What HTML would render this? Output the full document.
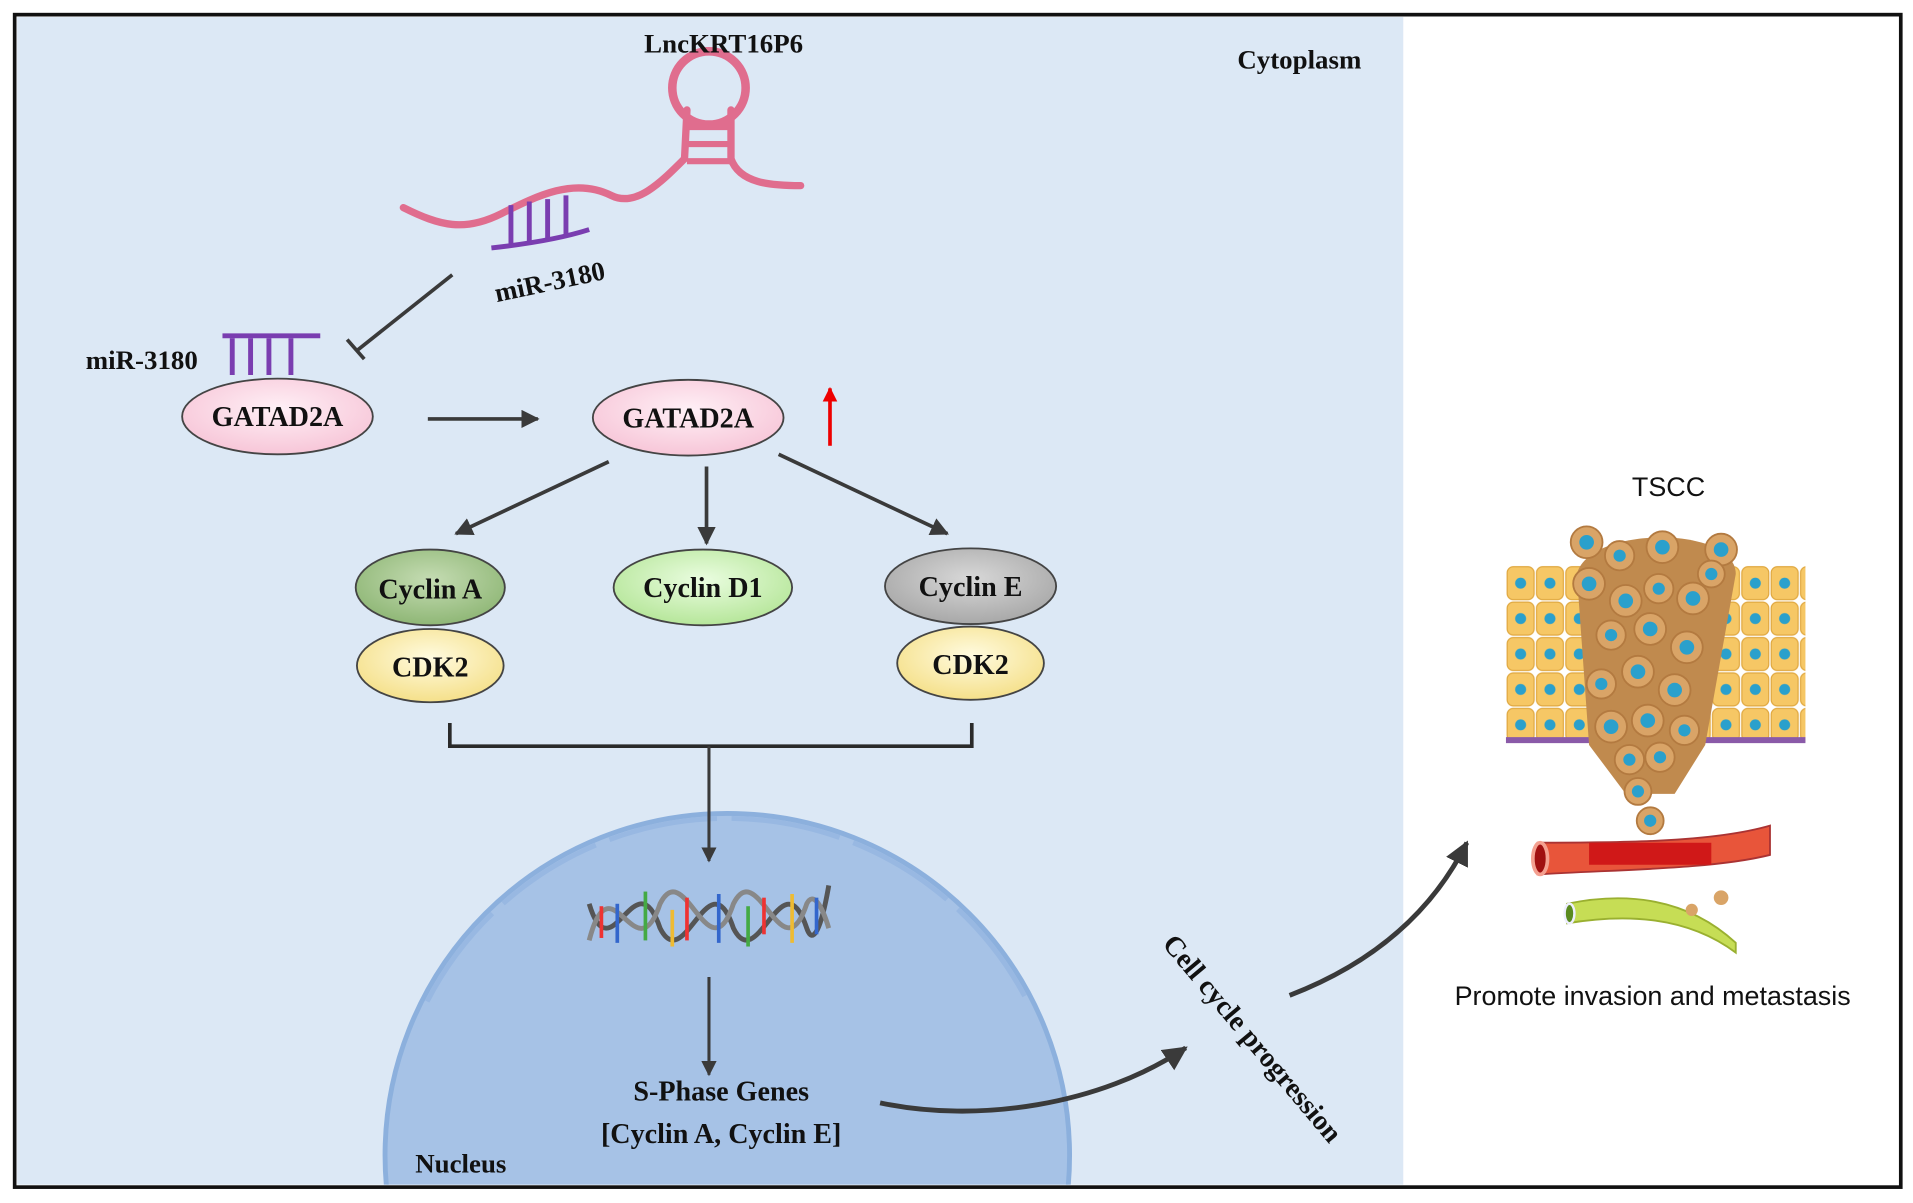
<!DOCTYPE html>
<html><head><meta charset="utf-8"><style>
html,body{margin:0;padding:0;background:#fff;width:1913px;height:1203px;overflow:hidden;}
svg{display:block;overflow:hidden;}
text{font-family:"Liberation Serif",serif;font-weight:bold;fill:#111;}
.s{font-family:"Liberation Sans",sans-serif;font-weight:normal;}
</style></head><body>
<svg width="1913" height="1203" viewBox="0 0 1565 985" preserveAspectRatio="none" xmlns="http://www.w3.org/2000/svg">
<defs>
<marker id="ah" viewBox="0 0 10 10" refX="9" refY="5" markerWidth="5" markerHeight="5" orient="auto"><path d="M0,0 L10,5 L0,10 z" fill="#3a3a3a"/></marker>
<marker id="ahr" viewBox="0 0 10 10" refX="9" refY="5" markerWidth="4" markerHeight="4" orient="auto"><path d="M0,0 L10,5 L0,10 z" fill="#e00"/></marker>
<clipPath id="cp"><rect x="14" y="14" width="1134" height="956"/></clipPath>
<pattern id="cells" x="1232" y="463" width="24" height="29" patternUnits="userSpaceOnUse">
<rect x="1" y="1" width="22" height="27" rx="5" fill="#f6c765" stroke="#e0a840" stroke-width="1"/>
<circle cx="12" cy="14.5" r="4.5" fill="#2aa0cc"/>
</pattern>
<radialGradient id="gp" cx="50%" cy="40%" r="60%"><stop offset="0" stop-color="#fff0f6"/><stop offset="1" stop-color="#f7c6d8"/></radialGradient>
<radialGradient id="gy" cx="50%" cy="40%" r="60%"><stop offset="0" stop-color="#fffbe0"/><stop offset="1" stop-color="#f5e08a"/></radialGradient>
<radialGradient id="gg" cx="50%" cy="40%" r="60%"><stop offset="0" stop-color="#eafde0"/><stop offset="1" stop-color="#b6e69a"/></radialGradient>
<radialGradient id="ga" cx="50%" cy="40%" r="60%"><stop offset="0" stop-color="#c5dcb3"/><stop offset="1" stop-color="#8fb776"/></radialGradient>
<radialGradient id="ge" cx="50%" cy="40%" r="60%"><stop offset="0" stop-color="#d8d8d8"/><stop offset="1" stop-color="#a8a8a8"/></radialGradient>
</defs>
<rect x="0" y="0" width="1565" height="985" fill="#fff"/>
<rect x="14" y="14" width="1134" height="956" fill="#dce8f5"/>
<g clip-path="url(#cp)">
<circle cx="595" cy="946" r="280" fill="#a6c2e6" stroke="#8cb0dd" stroke-width="4"/>
<path d="M349.5,820 A276,276 0 0 1 840.5,820" fill="none" stroke="#98b8e2" stroke-width="4" stroke-dasharray="90 12"/>
</g>
<rect x="12" y="12" width="1543" height="960" fill="none" stroke="#111" stroke-width="3"/>

<path d="M330,170 C360,185 380,190 410,175 C440,160 470,145 500,160 C520,170 540,150 560,130 L562,90" fill="none" stroke="#e06d8e" stroke-width="6" stroke-linecap="round"/>
<path d="M598,90 L598,130 C605,150 630,152 655,152" fill="none" stroke="#e06d8e" stroke-width="6" stroke-linecap="round"/>
<circle cx="580" cy="72" r="30" fill="none" stroke="#e06d8e" stroke-width="7"/>
<path d="M562,104 H598 M562,118 H598 M562,132 H598" stroke="#e06d8e" stroke-width="5"/>
<text x="592" y="43" font-size="22" text-anchor="middle">LncKRT16P6</text>
<text x="1063" y="56" font-size="22" text-anchor="middle">Cytoplasm</text>
<path d="M402,203 C430,200 460,195 482,188" fill="none" stroke="#7a3db0" stroke-width="4"/>
<path d="M418,200 V168 M433,198 V165 M448,195 V163 M463,192 V160" stroke="#7a3db0" stroke-width="4"/>
<text x="450" y="238" font-size="22" text-anchor="middle" transform="rotate(-12 450 232)">miR-3180</text>
<line x1="370" y1="225" x2="292" y2="287" stroke="#3a3a3a" stroke-width="3"/>
<line x1="284" y1="278" x2="298" y2="294" stroke="#3a3a3a" stroke-width="3"/>
<path d="M182,275 H262" stroke="#7a3db0" stroke-width="4"/>
<path d="M190,277 V307 M205,277 V307 M220,277 V307 M238,277 V307" stroke="#7a3db0" stroke-width="4"/>
<text x="116" y="302" font-size="22" text-anchor="middle">miR-3180</text>

<ellipse cx="227" cy="341" rx="78" ry="31" fill="url(#gp)" stroke="#444" stroke-width="1.5"/>
<text x="227" y="349" font-size="23" text-anchor="middle">GATAD2A</text>
<line x1="350" y1="343" x2="440" y2="343" stroke="#3a3a3a" stroke-width="3" marker-end="url(#ah)"/>
<ellipse cx="563" cy="342" rx="78" ry="31" fill="url(#gp)" stroke="#444" stroke-width="1.5"/>
<text x="563" y="350" font-size="23" text-anchor="middle">GATAD2A</text>
<line x1="679" y1="365" x2="679" y2="318" stroke="#e00" stroke-width="3" marker-end="url(#ahr)"/>

<line x1="498" y1="378" x2="373" y2="437" stroke="#3a3a3a" stroke-width="3" marker-end="url(#ah)"/>
<line x1="578" y1="382" x2="578" y2="445" stroke="#3a3a3a" stroke-width="3" marker-end="url(#ah)"/>
<line x1="637" y1="372" x2="775" y2="437" stroke="#3a3a3a" stroke-width="3" marker-end="url(#ah)"/>

<ellipse cx="352" cy="545" rx="60" ry="30" fill="url(#gy)" stroke="#444" stroke-width="1.5"/>
<text x="352" y="554" font-size="23" text-anchor="middle">CDK2</text>
<ellipse cx="352" cy="481" rx="61" ry="31" fill="url(#ga)" stroke="#444" stroke-width="1.5"/>
<text x="352" y="490" font-size="23" text-anchor="middle">Cyclin A</text>
<ellipse cx="575" cy="481" rx="73" ry="31" fill="url(#gg)" stroke="#444" stroke-width="1.5"/>
<text x="575" y="489" font-size="23" text-anchor="middle">Cyclin D1</text>
<ellipse cx="794" cy="543" rx="60" ry="30" fill="url(#gy)" stroke="#444" stroke-width="1.5"/>
<text x="794" y="552" font-size="23" text-anchor="middle">CDK2</text>
<ellipse cx="794" cy="480" rx="70" ry="31" fill="url(#ge)" stroke="#444" stroke-width="1.5"/>
<text x="794" y="488" font-size="23" text-anchor="middle">Cyclin E</text>

<path d="M368,592 V611 H795 V592" fill="none" stroke="#2a2a2a" stroke-width="3"/>
<line x1="580" y1="611" x2="580" y2="705" stroke="#3a3a3a" stroke-width="2.5" marker-end="url(#ah)"/>
<g fill="none" stroke-width="4">
<path d="M482,740 C500,800 520,700 540,760 C560,800 580,700 600,760 C620,800 640,700 660,760 C665,775 672,760 678,725" stroke="#555"/>
<path d="M482,770 C500,700 520,800 540,740 C560,700 580,800 600,740 C620,700 640,800 660,740 C665,730 672,740 678,760" stroke="#888"/>
</g>
<g stroke-width="3">
<line x1="492" y1="742" x2="492" y2="768" stroke="#e33"/><line x1="505" y1="740" x2="505" y2="772" stroke="#36c"/>
<line x1="528" y1="730" x2="528" y2="770" stroke="#4a4"/><line x1="550" y1="745" x2="550" y2="775" stroke="#eb3"/>
<line x1="562" y1="735" x2="562" y2="770" stroke="#e33"/><line x1="588" y1="732" x2="588" y2="772" stroke="#36c"/>
<line x1="612" y1="742" x2="612" y2="775" stroke="#4a4"/><line x1="625" y1="735" x2="625" y2="765" stroke="#e33"/>
<line x1="648" y1="732" x2="648" y2="772" stroke="#eb3"/><line x1="668" y1="735" x2="668" y2="765" stroke="#36c"/>
</g>
<line x1="580" y1="800" x2="580" y2="880" stroke="#3a3a3a" stroke-width="2.5" marker-end="url(#ah)"/>
<text x="590" y="901" font-size="23" text-anchor="middle">S-Phase Genes</text>
<text x="590" y="936" font-size="23" text-anchor="middle">[Cyclin A, Cyclin E]</text>
<text x="377" y="960" font-size="22" text-anchor="middle">Nucleus</text>

<path d="M720,903 C800,920 900,905 970,858" fill="none" stroke="#3a3a3a" stroke-width="4" marker-end="url(#ah)"/>
<text x="1025" y="858" font-size="23" text-anchor="middle" transform="rotate(50 1025 850)">Cell cycle progression</text>
<path d="M1055,815 C1120,790 1170,750 1200,690" fill="none" stroke="#3a3a3a" stroke-width="4" marker-end="url(#ah)"/>

<text class="s" x="1365" y="406" font-size="22" text-anchor="middle">TSCC</text>
<rect x="1232" y="463" width="245" height="145" fill="url(#cells)"/>
<path d="M1232,606 H1300 C1318,606 1325,620 1328,640 M1365,640 C1368,620 1378,606 1395,606 H1477" fill="none" stroke="#8a5aa8" stroke-width="5"/>
<path d="M1290,470 C1300,430 1420,430 1420,470 L1395,610 L1370,650 L1330,650 L1300,610 Z" fill="#c08a4e"/>
<g fill="#d9a467" stroke="#b37a40" stroke-width="1.5">
<circle cx="1298" cy="444" r="13"/><circle cx="1325" cy="455" r="12"/><circle cx="1360" cy="448" r="13"/><circle cx="1408" cy="450" r="13"/>
<circle cx="1300" cy="478" r="13"/><circle cx="1330" cy="492" r="13"/><circle cx="1357" cy="482" r="12"/><circle cx="1385" cy="490" r="13"/><circle cx="1400" cy="470" r="11"/>
<circle cx="1318" cy="520" r="12"/><circle cx="1350" cy="515" r="13"/><circle cx="1380" cy="530" r="13"/>
<circle cx="1340" cy="550" r="13"/><circle cx="1370" cy="565" r="13"/><circle cx="1310" cy="560" r="12"/>
<circle cx="1318" cy="595" r="13"/><circle cx="1348" cy="590" r="13"/><circle cx="1378" cy="598" r="12"/>
<circle cx="1333" cy="622" r="12"/><circle cx="1358" cy="620" r="12"/><circle cx="1340" cy="648" r="11"/><circle cx="1350" cy="672" r="11"/>
</g>
<g fill="#2aa0cc">
<circle cx="1298" cy="444" r="6"/><circle cx="1325" cy="455" r="5"/><circle cx="1360" cy="448" r="6"/><circle cx="1408" cy="450" r="6"/>
<circle cx="1300" cy="478" r="6"/><circle cx="1330" cy="492" r="6"/><circle cx="1357" cy="482" r="5"/><circle cx="1385" cy="490" r="6"/><circle cx="1400" cy="470" r="5"/>
<circle cx="1318" cy="520" r="5"/><circle cx="1350" cy="515" r="6"/><circle cx="1380" cy="530" r="6"/>
<circle cx="1340" cy="550" r="6"/><circle cx="1370" cy="565" r="6"/><circle cx="1310" cy="560" r="5"/>
<circle cx="1318" cy="595" r="6"/><circle cx="1348" cy="590" r="6"/><circle cx="1378" cy="598" r="5"/>
<circle cx="1333" cy="622" r="5"/><circle cx="1358" cy="620" r="5"/><circle cx="1340" cy="648" r="5"/><circle cx="1350" cy="672" r="5"/>
</g>
<path d="M1258,690 C1320,690 1400,690 1448,676 L1448,700 C1400,712 1320,712 1258,716 Z" fill="#e8553a" stroke="#a33" stroke-width="1.5"/>
<path d="M1300,690 H1400 V708 H1300 Z" fill="#d01818"/>
<ellipse cx="1260" cy="703" rx="6" ry="13" fill="#a01010" stroke="#f4a090" stroke-width="3"/>
<path d="M1282,740 C1330,730 1380,735 1420,772 L1420,780 C1380,750 1330,748 1282,756 Z" fill="#c6dd55" stroke="#9ab030" stroke-width="1.5"/>
<ellipse cx="1284" cy="748" rx="4" ry="8" fill="#5a8a20" stroke="#eef" stroke-width="2"/>
<circle cx="1408" cy="735" r="6" fill="#d9a467"/>
<circle cx="1384" cy="745" r="5" fill="#d9a467"/>
<text class="s" x="1352" y="823" font-size="22" text-anchor="middle">Promote invasion and metastasis</text>
</svg>
</body></html>
